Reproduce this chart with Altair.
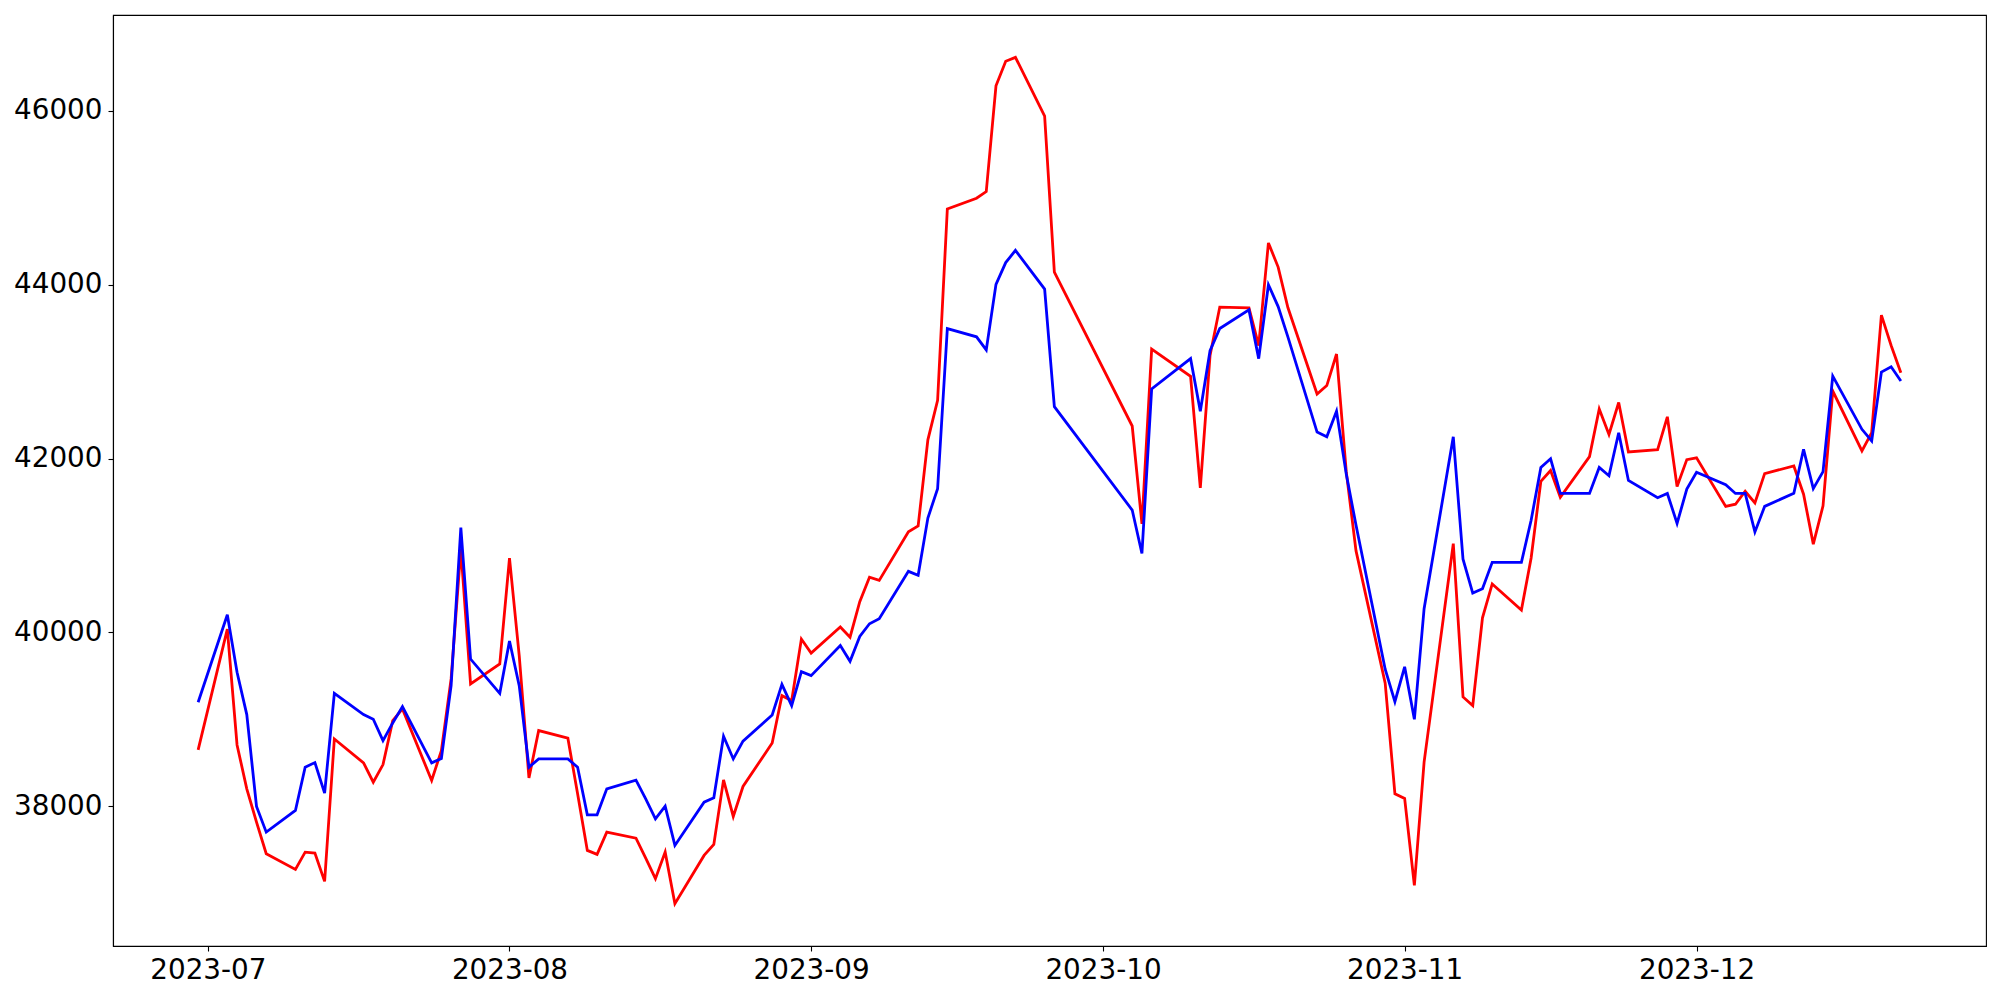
import altair as alt
import pandas as pd

dates = [
    "2023-06-30",
    "2023-07-03", "2023-07-04", "2023-07-05", "2023-07-06", "2023-07-07",
    "2023-07-10", "2023-07-11", "2023-07-12", "2023-07-13", "2023-07-14",
    "2023-07-17", "2023-07-18", "2023-07-19", "2023-07-20", "2023-07-21",
    "2023-07-24", "2023-07-25", "2023-07-26", "2023-07-27", "2023-07-28",
    "2023-07-31", "2023-08-01", "2023-08-02", "2023-08-03", "2023-08-04",
    "2023-08-07", "2023-08-08", "2023-08-09", "2023-08-10", "2023-08-11",
    "2023-08-14", "2023-08-15", "2023-08-16", "2023-08-17", "2023-08-18",
    "2023-08-21", "2023-08-22", "2023-08-23", "2023-08-24", "2023-08-25",
    "2023-08-28", "2023-08-29", "2023-08-30", "2023-08-31", "2023-09-01",
    "2023-09-04", "2023-09-05", "2023-09-06", "2023-09-07", "2023-09-08",
    "2023-09-11", "2023-09-12", "2023-09-13", "2023-09-14", "2023-09-15",
    "2023-09-18", "2023-09-19", "2023-09-20", "2023-09-21", "2023-09-22",
    "2023-09-25", "2023-09-26",
    "2023-10-04", "2023-10-05", "2023-10-06",
    "2023-10-10", "2023-10-11", "2023-10-12", "2023-10-13",
    "2023-10-16", "2023-10-17", "2023-10-18", "2023-10-19", "2023-10-20",
    "2023-10-23", "2023-10-24", "2023-10-25", "2023-10-26", "2023-10-27",
    "2023-10-30", "2023-10-31", "2023-11-01", "2023-11-02", "2023-11-03",
    "2023-11-06", "2023-11-07", "2023-11-08", "2023-11-09", "2023-11-10",
    "2023-11-13", "2023-11-14", "2023-11-15", "2023-11-16", "2023-11-17",
    "2023-11-20", "2023-11-21", "2023-11-22", "2023-11-23", "2023-11-24",
    "2023-11-27", "2023-11-28", "2023-11-29", "2023-11-30", "2023-12-01",
    "2023-12-04", "2023-12-05", "2023-12-06", "2023-12-07", "2023-12-08",
    "2023-12-11", "2023-12-12", "2023-12-13", "2023-12-14", "2023-12-15",
    "2023-12-18", "2023-12-19", "2023-12-20", "2023-12-21", "2023-12-22",
]

blue_values = [
    39196,
    40203, 39540, 39054, 37997, 37702,
    37951, 38449, 38502, 38150, 39299,
    39054, 39000, 38755, 38958, 39146,
    38499, 38548, 39387, 41206, 39693,
    39299, 39900, 39387, 38449, 38544,
    38544, 38449, 37901, 37901, 38200,
    38300, 38085, 37855, 38001, 37549,
    38047, 38097, 38805, 38544, 38748,
    39050, 39402, 39157, 39548, 39502,
    39849, 39667, 39953, 40099, 40158,
    40702, 40657, 41316, 41652, 43495,
    43400, 43250, 44004, 44254, 44394,
    43949, 42596,
    41407, 40907, 42800,
    43149, 42544, 43240, 43496,
    43710, 43149, 43999, 43748, 43400,
    42304, 42250, 42544, 41822, 41234,
    39576, 39202, 39603, 39000, 40272,
    42250, 40841, 40452, 40502, 40806,
    40806, 41289, 41897, 41997, 41598,
    41598, 41897, 41802, 42296, 41748,
    41548, 41598, 41254, 41648, 41842,
    41698, 41598, 41598, 41155, 41449,
    41600, 42106, 41654, 41849, 42948,
    42336, 42202, 42994, 43055, 42891,
]

red_values = [
    38648,
    40038, 38705, 38200, 37817, 37453,
    37273, 37472, 37461, 37135, 38774,
    38499, 38276, 38479, 38985, 39119,
    38296, 38640, 39464, 40957, 39406,
    39636, 40854, 39732, 38326, 38870,
    38782, 38143, 37492, 37446, 37702,
    37633, 37403, 37166, 37472, 36879,
    37434, 37560, 38303, 37882, 38227,
    38728, 39272, 39215, 39923, 39762,
    40062, 39944, 40353, 40635, 40598,
    41157, 41225, 42215, 42669, 44871,
    44994, 45071, 46288, 46570, 46615,
    45938, 44145,
    42374, 41248, 43259,
    42945, 41662, 43186, 43742,
    43732, 43298, 44480, 44202, 43737,
    42742, 42839, 43202, 41849, 40940,
    39416, 38143, 38090, 37089, 38507,
    41020, 39257, 39157, 40168, 40557,
    40258, 40856, 41738, 41862, 41553,
    42022, 42570, 42276, 42644, 42076,
    42101, 42480, 41678, 41987, 42007,
    41449, 41474, 41623, 41489, 41827,
    41914, 41589, 41015, 41455, 42776,
    42087, 42297, 43650, 43300, 42987,
]

x_tick_months = [7, 8, 9, 10, 11, 12]
y_ticks = [38000, 40000, 42000, 44000, 46000]

df = pd.DataFrame({"date": dates, "red": red_values, "blue": blue_values})

x_enc = alt.X(
    "date:T",
    scale=alt.Scale(
        type="utc",
        nice=False,
        domain=[
            alt.DateTime(year=2023, month=6, date=21, hours=6, utc=True),
            alt.DateTime(year=2023, month=12, date=30, hours=18, utc=True),
        ],
    ),
    axis=alt.Axis(
        title=None,
        format="%Y-%m",
        values=[alt.DateTime(year=2023, month=m, date=1, utc=True) for m in x_tick_months],
        labelPadding=5,
    ),
)

y_scale = alt.Scale(domain=[36392, 47102], nice=False, zero=False)
y_axis = alt.Axis(title=None, values=y_ticks, format="d", labelPadding=6)

base = alt.Chart(df)
red_line = base.mark_line(color="red", strokeWidth=2.8, clip=True).encode(
    x=x_enc, y=alt.Y("red:Q", scale=y_scale, axis=y_axis)
)
blue_line = base.mark_line(color="blue", strokeWidth=2.8, clip=True).encode(
    x=x_enc, y=alt.Y("blue:Q", scale=y_scale, axis=y_axis)
)

chart = (
    alt.layer(red_line, blue_line)
    .properties(
        width=1873,
        height=931,
        autosize=alt.AutoSizeParams(type="none"),
        padding={"left": 105, "top": 7, "right": 5, "bottom": 40},
        background="white",
    )
    .configure_view(stroke="black", strokeWidth=1.1)
    .configure_axis(
        grid=False,
        domainColor="black",
        domainWidth=1.1,
        tickColor="black",
        tickWidth=1.1,
        tickSize=5,
        labelFont="DejaVu Sans",
        labelFontSize=27.8,
        labelColor="black",
    )
)

chart.save("out.html", embed_options={"renderer": "svg", "actions": False})
